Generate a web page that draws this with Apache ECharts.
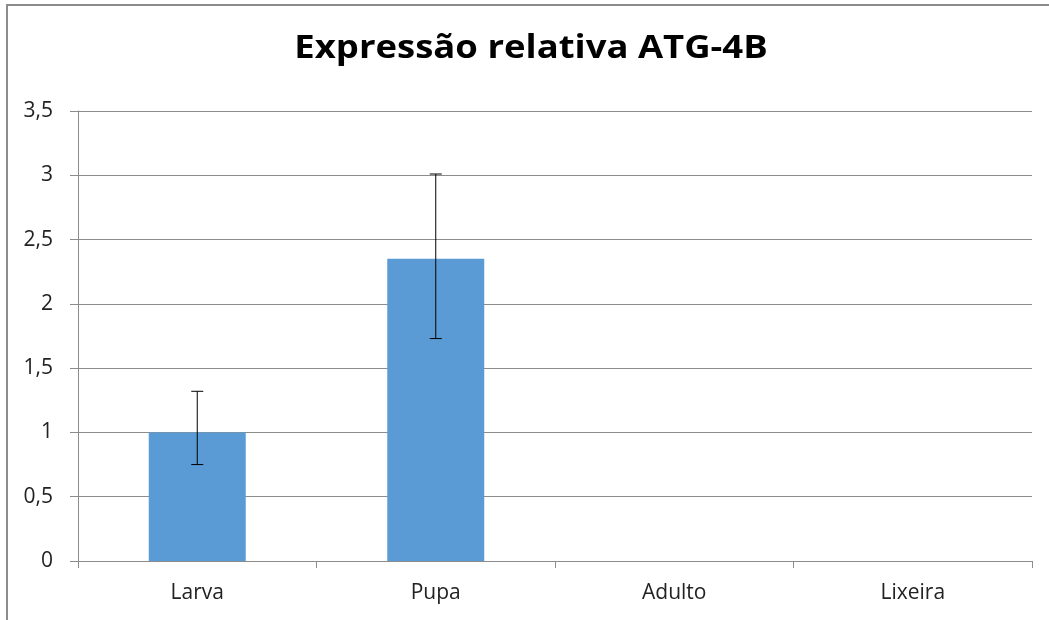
<!DOCTYPE html>
<html><head><meta charset="utf-8">
<script src="https://cdn.jsdelivr.net/npm/echarts@6/dist/echarts.min.js"></script>
<style>html,body{margin:0;padding:0;background:#fff}#c{width:1049px;height:620px}</style>
</head><body><div id="c"></div>
<script>
const categories = ['Larva', 'Pupa', 'Adulto', 'Lixeira'];
const values = [1.0, 2.35, 0, 0];
const errLow = [0.75, 1.73, null, null];
const errHigh = [1.32, 3.01, null, null];
const titleText = 'Expressão relativa ATG-4B';

const errData = [];
categories.forEach((c, i) => { if (errLow[i] != null) errData.push([i, errLow[i], errHigh[i]]); });

const chart = echarts.init(document.getElementById('c'), null, {renderer: 'canvas'});
chart.setOption({
  animation: false,
  backgroundColor: '#fff',
  graphic: [
    {type: 'rect', shape: {x: 7, y: 5, width: 1200, height: 800},
      style: {fill: 'none', stroke: '#8c8c8c', lineWidth: 2}, silent: true},
    {type: 'text', x: 531, y: 49, scaleX: 1.14, silent: true,
      style: {text: titleText, font: 'bold 32px "Open Sans"', fill: '#000',
        textAlign: 'center', textVerticalAlign: 'middle'}}
  ],
  grid: {left: 78, right: 17, top: 111, bottom: 59},
  xAxis: {
    type: 'category', data: categories,
    axisLine: {lineStyle: {color: '#8c8c8c', width: 1}},
    axisTick: {show: true, length: 7, lineStyle: {color: '#8c8c8c'}},
    axisLabel: {fontFamily: 'Open Sans', fontSize: 21, color: '#222', margin: 22}
  },
  yAxis: {
    type: 'value', min: 0, max: 3.5, interval: 0.5,
    axisLine: {show: true, lineStyle: {color: '#8c8c8c', width: 1}},
    axisTick: {show: true, length: 8, lineStyle: {color: '#8c8c8c'}},
    splitLine: {lineStyle: {color: '#8c8c8c', width: 1}},
    axisLabel: {fontFamily: 'Open Sans', fontSize: 21, color: '#222', margin: 25,
      formatter: v => String(v).replace('.', ',')}
  },
  series: [{
    type: 'bar', data: values, barWidth: 97,
    itemStyle: {color: '#5B9BD5'}
  }, {
    type: 'custom', data: errData, z: 10,
    renderItem: function (params, api) {
      const x = api.value(0);
      const lo = api.coord([x, api.value(1)]);
      const hi = api.coord([x, api.value(2)]);
      const hw = 6;
      const st = {stroke: '#000', lineWidth: 1};
      return {type: 'group', children: [
        {type: 'line', shape: {x1: lo[0], y1: lo[1], x2: hi[0], y2: hi[1]}, style: st},
        {type: 'line', shape: {x1: lo[0]-hw, y1: lo[1], x2: lo[0]+hw, y2: lo[1]}, style: st},
        {type: 'line', shape: {x1: hi[0]-hw, y1: hi[1], x2: hi[0]+hw, y2: hi[1]}, style: st}
      ]};
    }
  }]
});
</script></body></html>
